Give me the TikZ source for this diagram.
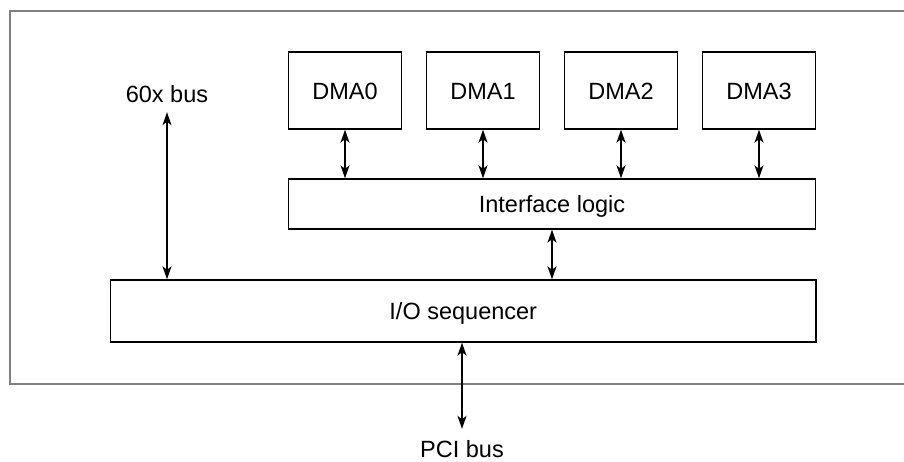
\documentclass[tikz,border=0pt]{standalone}
\usepackage{fontspec}
\setmainfont{Liberation Sans}
\usetikzlibrary{arrows.meta}

\begin{document}
\begin{tikzpicture}[x=1pt, y=-1pt,
  txt/.style={font=\fontsize{23.5}{28}\selectfont, text height=17pt, text depth=0pt},
  blk/.style={draw, line width=1.4pt, inner sep=0pt, txt},
  dma/.style={blk, minimum width=113pt, minimum height=77pt},
  lbl/.style={txt, inner xsep=0pt},
  frame/.style={draw=black!50, line width=1.3pt},
  arr/.style={{Stealth[length=13pt,width=9pt,inset=3.5pt]}-{Stealth[length=13pt,width=9pt,inset=3.5pt]},
              line width=1.5pt}]
\useasboundingbox (0,0) rectangle (904,461);
% outer frame, open on the right
\draw[frame] (904,11) -- (10,11) -- (10,384) -- (904,384);

\node[dma] (dma0) at (345,90.5) {DMA0};
\node[dma] (dma1) at (483,90.5) {DMA1};
\node[dma] (dma2) at (621,90.5) {DMA2};
\node[dma] (dma3) at (759,90.5) {DMA3};
\node[blk, minimum width=527pt, minimum height=50pt] (iface) at (552,204) {Interface logic};
\node[blk, minimum width=705.5pt, minimum height=62pt] (ioseq) at (463.25,311) {I/O sequencer};

\node[lbl, inner ysep=10pt] (bus60) at (167,93.5) {60x bus};
\node[lbl, inner ysep=11pt] (pci) at (462,448.5) {PCI bus};

\foreach \i in {0,...,3}
  \draw[arr] (dma\i.south) -- (dma\i.south |- iface.north);
\draw[arr] (iface.south) -- (iface.south |- ioseq.north);
\draw[arr] (bus60.south) -- (bus60.south |- ioseq.north);
\draw[arr] (pci.north |- ioseq.south) -- (pci.north);
\end{tikzpicture}
\end{document}
